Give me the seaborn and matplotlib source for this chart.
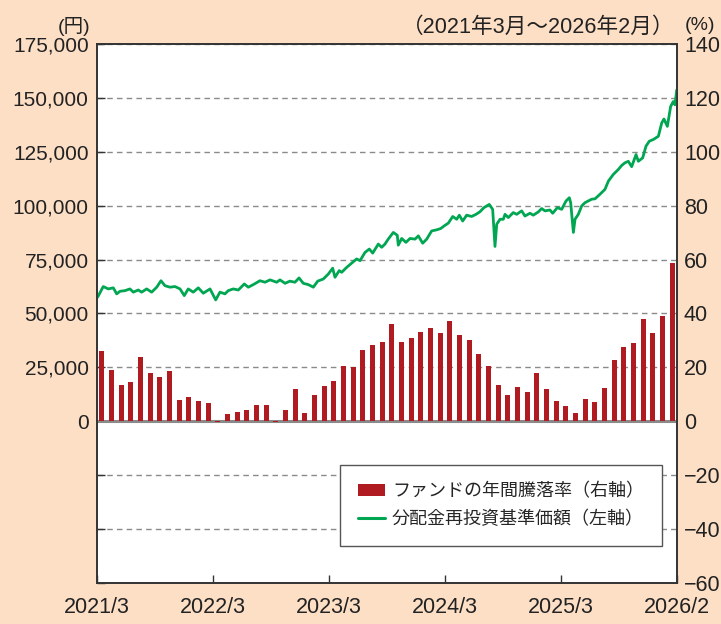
import numpy as np
import pandas as pd
import matplotlib
matplotlib.use("Agg")
import matplotlib.pyplot as plt
from matplotlib.ticker import FuncFormatter, FixedLocator
from matplotlib.patches import Patch
from matplotlib.lines import Line2D
import seaborn as sns

# ---------------- data ----------------
# Annual return of the fund (%), monthly, 2021/3 .. 2026/2
annual_return = [26.2, 19.1, 13.6, 14.4, 24.0, 18.1, 16.5, 18.8, 7.8, 9.1,
                 7.4, 6.9, -0.4, 2.8, 3.6, 4.1, 6.2, 6.2, -0.4, 4.3,
                 12.1, 3.2, 9.9, 13.2, 15.1, 20.6, 20.2, 26.5, 28.4, 29.5,
                 36.2, 29.5, 31.0, 33.2, 34.7, 32.8, 37.3, 32.1, 30.0, 24.8,
                 20.7, 13.3, 9.6, 12.9, 10.7, 18.1, 11.8, 7.7, 5.5, 3.2,
                 8.1, 7.0, 12.5, 22.6, 27.5, 28.9, 37.9, 32.7, 39.0, 58.8]

# NAV (distribution reinvested), time in months since 2021/3 start, value in yen
nav_t = [0.07, 0.65, 1.17, 1.69, 2.04, 2.38, 2.90, 3.41, 3.76, 4.27,
         4.62, 5.14, 5.66, 6.18, 6.62, 7.03, 7.55, 8.07, 8.59, 9.03,
         9.44, 9.96, 10.48, 11.00, 11.69, 12.28, 12.72, 13.24, 13.58, 14.10,
         14.62, 15.24, 15.65, 16.17, 16.86, 17.38, 17.90, 18.59, 18.93, 19.45,
         19.96, 20.48, 20.90, 21.34, 21.86, 22.38, 22.83, 23.41, 23.93, 24.38,
         24.62, 25.06, 25.31, 25.83, 26.35, 26.86, 27.21, 27.72, 28.17, 28.52,
         29.10, 29.45, 29.79, 30.13, 30.65, 31.06, 31.17, 31.52, 31.96, 32.38,
         32.90, 33.24, 33.69, 34.11, 34.62, 35.14, 35.55, 36.00, 36.34, 36.80,
         37.21, 37.48, 37.83, 38.24, 38.76, 39.21, 39.62, 40.03, 40.58, 40.93,
         41.17, 41.35, 41.69, 42.03, 42.21, 42.55, 43.06, 43.42, 43.93, 44.27,
         44.79, 45.13, 45.65, 46.00, 46.34, 46.86, 47.14, 47.62, 48.07, 48.52,
         48.86, 49.00, 49.28, 49.45, 49.79, 50.14, 50.48, 50.82, 51.17, 51.52,
         52.03, 52.55, 52.90, 53.41, 53.93, 54.28, 54.62, 54.96, 55.31, 55.76,
         56.00, 56.45, 56.79, 57.13, 57.55, 58.07, 58.42, 58.65, 59.00, 59.34,
         59.61, 59.79, 59.97]
nav_v = [57600, 62500, 61400, 61900, 59100, 60300, 60600, 61400, 59900, 60900,
         59900, 61400, 59900, 62200, 65200, 62900, 62200, 62500, 61400, 58300,
         61400, 59900, 61900, 59400, 61400, 56300, 59900, 59100, 60600, 61400,
         60900, 63700, 62200, 63400, 65200, 64500, 65600, 64500, 65600, 64000,
         65000, 64500, 66500, 64000, 63400, 62200, 65000, 66000, 68300, 71000,
         66800, 69900, 69100, 71400, 73400, 75300, 74500, 78300, 79900, 78000,
         82200, 80700, 82200, 84500, 87600, 86300, 81700, 84800, 83000, 84800,
         84500, 86000, 82600, 84500, 88300, 88800, 89400, 90900, 91900, 95000,
         93700, 95600, 92900, 95600, 95000, 96000, 97200, 99100, 100600, 98300,
         81100, 91400, 93700, 93700, 96000, 94500, 96800, 96000, 97600, 95200,
         96500, 95600, 97100, 98700, 97600, 98000, 96500, 99100, 98300, 102200,
         103700, 101400, 87600, 93700, 96000, 99900, 101400, 102200, 103000, 103200,
         105300, 107600, 111400, 114500, 116800, 118700, 119900, 120600, 118100, 123700,
         120600, 122200, 127600, 129900, 130700, 132200, 138400, 140200, 136800, 146000,
         148300, 146800, 153700]

x_tick_pos = [0, 12, 24, 36, 48, 60]
x_tick_labels = ["2021/3", "2022/3", "2023/3", "2024/3", "2025/3", "2026/2"]
left_ticks = [-75000, -50000, -25000, 0, 25000, 50000, 75000, 100000, 125000, 150000, 175000]
right_ticks = [-60, -40, -20, 0, 20, 40, 60, 80, 100, 120, 140]

title_text = "（2021年3月～2026年2月）"
legend_bar = "ファンドの年間騰落率（右軸）"
legend_line = "分配金再投資基準価額（左軸）"

# ---------------- style ----------------
sns.set_style("ticks")
plt.rcParams["font.family"] = ["Liberation Sans", "Noto Sans CJK JP", "DejaVu Sans"]

BG = "#fddfc6"
BAR = "#b01a21"
LINE = "#00a651"
SPINE = "#333333"
GRID = "#8a8a8a"

fig = plt.figure(figsize=(7.21, 6.24), dpi=100, facecolor=BG)
ax = fig.add_axes([0.1345, 0.0657, 0.8045, 0.8638])
ax.set_facecolor("white")
ax2 = ax.twinx()

bars_df = pd.DataFrame({"m": np.arange(len(annual_return)) + 0.5, "r": annual_return})
nav_df = pd.DataFrame({"t": nav_t, "v": nav_v})

sns.barplot(data=bars_df, x="m", y="r", native_scale=True, color=BAR,
            saturation=1, width=0.52, errorbar=None, ax=ax2, zorder=3,
            linewidth=0)
sns.lineplot(data=nav_df, x="t", y="v", color=LINE, linewidth=2.0, ax=ax, zorder=3)

# axes ranges
ax.set_xlim(0, 60)
ax.set_ylim(-75000, 175000)
ax2.set_ylim(-60, 140)

# grid (dashed) on left axis
ax.yaxis.set_major_locator(FixedLocator(left_ticks))
ax.yaxis.grid(True, linestyle=(0, (4, 3)), color=GRID, linewidth=1.0, zorder=0)
ax.xaxis.grid(False)
ax.axhline(0, color=GRID, linewidth=2.2, zorder=1)
ax.yaxis.set_major_formatter(FuncFormatter(lambda v, p: f"{int(v):,}" if v >= 0 else ""))

ax2.yaxis.set_major_locator(FixedLocator(right_ticks))
ax2.yaxis.set_major_formatter(FuncFormatter(lambda v, p: f"{int(v)}".replace("-", "\u2212")))

ax.set_xticks(x_tick_pos)
ax.set_xticklabels(x_tick_labels)

ax.set_xlabel("")
ax.set_ylabel("")
ax2.set_xlabel("")
ax2.set_ylabel("")

ax.tick_params(axis="x", direction="in", length=6, width=1, color=SPINE,
               pad=10, labelsize=15.5, labelcolor="#222222")
ax.tick_params(axis="y", direction="in", length=6, width=1, color=SPINE,
               pad=6, labelsize=15, labelcolor="#222222")
ax2.tick_params(axis="y", direction="in", length=0, width=1, color=SPINE,
                pad=5, labelsize=15.5, labelcolor="#222222")

for a in (ax, ax2):
    for s in a.spines.values():
        s.set_visible(True)
        s.set_color(SPINE)
        s.set_linewidth(1.2)

# header texts
fig.text(90 / 721, 1 - 26 / 624, "(円)", ha="right", va="center", fontsize=14, color="#222222")
fig.text(715 / 721, 1 - 26 / 624, "(%)", ha="right", va="center", fontsize=14, color="#222222")
fig.text(674 / 721, 1 - 27 / 624, title_text, ha="right", va="center", fontsize=15.6, color="#222222")

# legend
handles = [Patch(facecolor=BAR, edgecolor="none"),
           Line2D([0], [0], color=LINE, linewidth=2.2)]
leg = ax2.legend(handles, [legend_bar, legend_line], loc="lower right",
                 bbox_to_anchor=(0.974, 0.069), frameon=True, fancybox=False,
                 fontsize=13, handlelength=1.45, handleheight=0.6,
                 handletextpad=0.4, labelspacing=0.55, borderpad=1.0,
                 borderaxespad=0)
leg.get_frame().set_edgecolor("#555555")
leg.get_frame().set_linewidth(1.0)
leg.get_frame().set_facecolor("white")
leg.get_frame().set_alpha(1)

fig.savefig("out.png", dpi=100, facecolor=BG)
